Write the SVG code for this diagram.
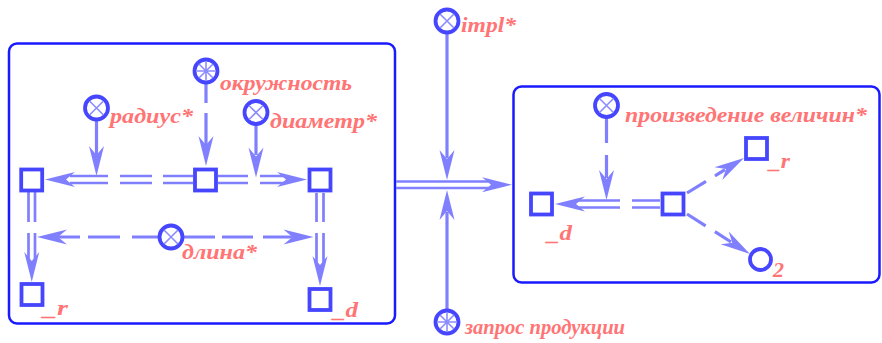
<svg xmlns="http://www.w3.org/2000/svg" xmlns:xlink="http://www.w3.org/1999/xlink" width="882" height="343" viewBox="0 0 882 343">
<style>
.box{fill:none;stroke:#1a1aff;stroke-width:2.5}
.sq{fill:#fff;stroke:#4646ff;stroke-width:3.8}
.vc{fill:#fff;stroke:#4646ff;stroke-width:3.8}
.vx{stroke:#8c8cff;stroke-width:1.6}
.ln{fill:none;stroke:#8080ff;stroke-width:3.2}
.dl{fill:none;stroke:#8080ff;stroke-width:2.7}
.ah{fill:#8080ff}
.lb{font-family:"Liberation Serif","Times New Roman",serif;font-weight:bold;font-style:italic;font-size:22px;fill:#ff7474}
</style>
<defs>
<path id="ah" d="M0,0 L-30,-7.5 L-21,0 L-30,7.5 Z"/>
<g id="vx">
<circle r="11.5" class="vc"/>
<path class="vx" d="M-7,-7 L7,7 M-7,7 L7,-7"/>
</g>
<g id="vs">
<circle r="11.5" class="vc"/>
<path class="vx" d="M-7,-7 L7,7 M-7,7 L7,-7 M0,-9.5 V9.5 M-9.5,0 H9.5"/>
</g>
</defs>

<g id="box-left"><rect class="box" x="9" y="43.5" width="386" height="280" rx="8"/></g>
<g id="box-right"><rect class="box" x="513.5" y="86.5" width="366" height="196" rx="8"/></g>

<g id="connectors">
<path class="dl" d="M193,176 H163 M152,176 H120 M108,176 H70 M193,183 H163 M152,183 H120 M108,183 H70"/>
<use href="#ah" class="ah" transform="translate(45,179.5) rotate(180)"/>
<path class="dl" d="M218,176 H248 M260,176 H284 M218,183 H248 M260,183 H284"/>
<use href="#ah" class="ah" transform="translate(307,179.5)"/>
<path class="dl" d="M28.5,192 V222 M28.5,233 V260 M35,192 V222 M35,233 V260"/>
<use href="#ah" class="ah" transform="translate(31.75,282) rotate(90)"/>
<path class="dl" d="M316.5,193 V222 M316.5,233 V264 M323.5,193 V222 M323.5,233 V264"/>
<use href="#ah" class="ah" transform="translate(320,286) rotate(90)"/>
<path class="ln" d="M96.5,120 V155"/>
<use href="#ah" class="ah" transform="translate(96.5,176) rotate(90)"/>
<path class="ln" d="M206,84 V103 M206,113 V145"/>
<use href="#ah" class="ah" transform="translate(206,166) rotate(90)"/>
<path class="ln" d="M256,125 V155"/>
<use href="#ah" class="ah" transform="translate(256,177.5) rotate(90)"/>
<path class="ln" d="M158,237 H132 M120,237 H88 M80,237 H58 M184,237 H215 M222,237 H253 M263,237 H292"/>
<use href="#ah" class="ah" transform="translate(37,237) rotate(180)"/>
<use href="#ah" class="ah" transform="translate(313.5,237)"/>
<path class="dl" d="M396,181.5 H490 M396,188 H490"/>
<use href="#ah" class="ah" transform="translate(512,184.75)"/>
<path class="ln" d="M447,33 V158"/>
<use href="#ah" class="ah" transform="translate(447,180) rotate(90)"/>
<path class="ln" d="M447,310 V212"/>
<use href="#ah" class="ah" transform="translate(447,190) rotate(-90)"/>
<path class="dl" d="M660,200.5 H632 M620,200.5 H577 M660,207.5 H632 M620,207.5 H577"/>
<use href="#ah" class="ah" transform="translate(555,204) rotate(180)"/>
<path class="ln" d="M606.5,118 V143 M606.5,155 V178"/>
<use href="#ah" class="ah" transform="translate(606.5,200) rotate(90)"/>
<path class="ln" d="M687,193 L706,181.3 M715,175.8 L725,169.7"/>
<use href="#ah" class="ah" transform="translate(744,158) rotate(-31.5)"/>
<path class="ln" d="M687,214 L705.6,225.8 M714.9,231.7 L731,242"/>
<use href="#ah" class="ah" transform="translate(750,254) rotate(32.4)"/>
</g>

<g id="n-sq-left"><rect class="sq" x="21.2" y="169.5" width="21" height="21"/></g>
<g id="n-sq-mid"><rect class="sq" x="195" y="169.5" width="21" height="21"/></g>
<g id="n-sq-right"><rect class="sq" x="309.5" y="169.5" width="21" height="21"/></g>
<g id="n-r-left"><rect class="sq" x="21.5" y="284" width="21" height="21"/><text class="lb" x="43" y="315" textLength="25" lengthAdjust="spacingAndGlyphs">_r</text></g>
<g id="n-d-left"><rect class="sq" x="309.5" y="289" width="21" height="21"/><text class="lb" x="333" y="317" textLength="25" lengthAdjust="spacingAndGlyphs">_d</text></g>
<g id="n-radius"><use href="#vx" x="96.5" y="108"/><text class="lb" x="110" y="123" textLength="83" lengthAdjust="spacingAndGlyphs">радиус*</text></g>
<g id="n-circle"><use href="#vs" x="206" y="71"/><text class="lb" x="220" y="90" textLength="132" lengthAdjust="spacingAndGlyphs">окружность</text></g>
<g id="n-diam"><use href="#vx" x="256" y="112.5"/><text class="lb" x="270" y="128" textLength="107" lengthAdjust="spacingAndGlyphs">диаметр*</text></g>
<g id="n-len"><use href="#vx" x="171" y="237"/><text class="lb" x="182" y="259" textLength="75" lengthAdjust="spacingAndGlyphs">длина*</text></g>
<g id="n-impl"><use href="#vx" x="447" y="21"/><text class="lb" x="461" y="32" textLength="55" lengthAdjust="spacingAndGlyphs">impl*</text></g>
<g id="n-query"><use href="#vs" x="447" y="322"/><text class="lb" x="465" y="334" textLength="160" lengthAdjust="spacingAndGlyphs">запрос продукции</text></g>
<g id="n-prod"><use href="#vx" x="606.5" y="105.5"/><text class="lb" x="625" y="122" textLength="242" lengthAdjust="spacingAndGlyphs">произведение величин*</text></g>
<g id="n-d-right"><rect class="sq" x="531" y="193.5" width="21" height="21"/><text class="lb" x="547" y="240" textLength="25" lengthAdjust="spacingAndGlyphs">_d</text></g>
<g id="n-mid-right"><rect class="sq" x="662.5" y="193.5" width="21" height="21"/></g>
<g id="n-r-right"><rect class="sq" x="746" y="138" width="21" height="21"/><text class="lb" x="769" y="168" textLength="21" lengthAdjust="spacingAndGlyphs">_r</text></g>
<g id="n-two"><circle class="vc" cx="760.5" cy="259.5" r="10.5"/><text class="lb" x="773" y="277">2</text></g>
</svg>
